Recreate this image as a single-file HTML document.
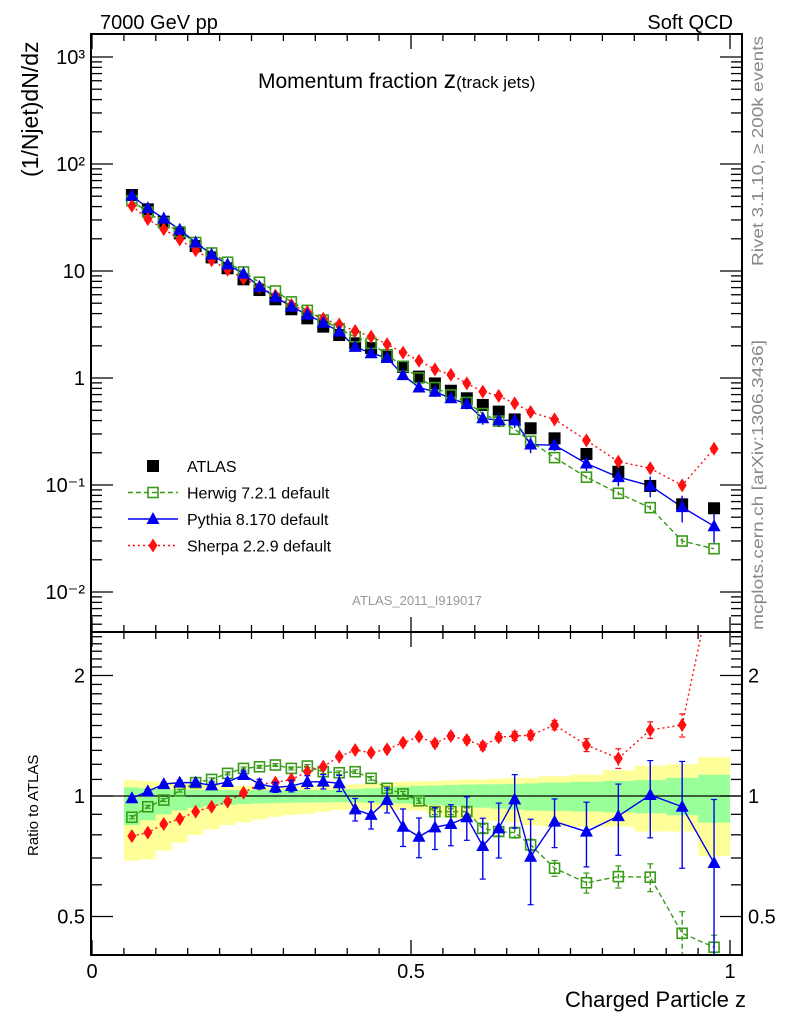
<!DOCTYPE html>
<html><head><meta charset="utf-8"><style>
html,body{margin:0;padding:0;background:#fff;}
svg{display:block;font-family:"Liberation Sans",sans-serif;}
</style></head><body>
<svg id="c" width="786" height="1024" viewBox="0 0 786 1024" xmlns="http://www.w3.org/2000/svg">
<g id="bands"></g>
<g id="marks"></g>
<g id="axes"></g>
<text x="100" y="29" font-size="20">7000 GeV pp</text>
<text x="733" y="29" font-size="20" text-anchor="end">Soft QCD</text>
<text x="258" y="88" font-size="21">Momentum fraction <tspan font-size="25">z</tspan><tspan font-size="17">(track jets)</tspan></text>
<text transform="translate(38,177) rotate(-90)" font-size="23">(1/Njet)dN/dz</text>
<text transform="translate(38,856) rotate(-90)" font-size="15">Ratio to ATLAS</text>
<text x="746" y="1007" font-size="22" text-anchor="end">Charged Particle z</text>
<text transform="translate(763,266) rotate(-90)" font-size="16" textLength="230" lengthAdjust="spacingAndGlyphs" fill="#888">Rivet 3.1.10, ≥ 200k events</text>
<text transform="translate(763,630) rotate(-90)" font-size="16" textLength="290" lengthAdjust="spacingAndGlyphs" fill="#888">mcplots.cern.ch [arXiv:1306.3436]</text>
<text x="417" y="605" font-size="13" fill="#999" text-anchor="middle">ATLAS_2011_I919017</text>
<g id="legend"></g>
</svg>
<script>
const NS="http://www.w3.org/2000/svg";
const zvals=[0.0625,0.0875,0.1125,0.1375,0.1625,0.1875,0.2125,0.2375,0.2625,0.2875,0.3125,0.3375,0.3625,0.3875,0.4125,0.4375,0.4625,0.4875,0.5125,0.5375,0.5625,0.5875,0.6125,0.6375,0.6625,0.6875,0.725,0.775,0.825,0.875,0.925,0.975];
const halfW=[0.0125,0.0125,0.0125,0.0125,0.0125,0.0125,0.0125,0.0125,0.0125,0.0125,0.0125,0.0125,0.0125,0.0125,0.0125,0.0125,0.0125,0.0125,0.0125,0.0125,0.0125,0.0125,0.0125,0.0125,0.0125,0.0125,0.025,0.025,0.025,0.025,0.025,0.025];
const atlas=[51.3,37.7,28.9,22.5,17.1,13.4,10.6,8.36,6.64,5.44,4.39,3.61,3.02,2.52,2.11,1.90,1.58,1.27,1.03,0.89,0.76,0.646,0.56,0.485,0.41,0.339,0.273,0.195,0.133,0.098,0.066,0.0606];
const herwigRatio=[0.885,0.94,0.977,1.031,1.08,1.1,1.139,1.172,1.183,1.195,1.172,1.188,1.15,1.143,1.15,1.107,1.045,1.012,0.973,0.914,0.914,0.914,0.83,0.815,0.81,0.755,0.66,0.607,0.629,0.627,0.454,0.419];
const pythiaRatio=[0.987,1.027,1.071,1.08,1.08,1.063,1.084,1.128,1.071,1.051,1.059,1.084,1.086,1.076,0.926,0.897,0.977,0.838,0.791,0.835,0.851,0.885,0.75,0.83,0.981,0.705,0.863,0.815,0.891,1.006,0.94,0.68];
const sherpaRatio=[0.794,0.81,0.851,0.876,0.914,0.94,0.968,1.019,1.071,1.08,1.1,1.15,1.184,1.254,1.303,1.283,1.308,1.359,1.407,1.354,1.412,1.38,1.333,1.402,1.412,1.418,1.504,1.341,1.242,1.462,1.504,3.6];
const pythiaErr=[0.012,0.012,0.012,0.015,0.015,0.018,0.02,0.025,0.03,0.03,0.035,0.04,0.045,0.05,0.06,0.07,0.07,0.09,0.09,0.1,0.1,0.11,0.13,0.13,0.15,0.17,0.12,0.15,0.18,0.22,0.28,0.3];
const herwigErr=[0.008,0.008,0.008,0.008,0.008,0.01,0.01,0.01,0.01,0.01,0.01,0.01,0.012,0.012,0.012,0.012,0.012,0.015,0.015,0.015,0.015,0.02,0.02,0.02,0.025,0.025,0.03,0.035,0.04,0.05,0.06,0.03];
const sherpaErr=[0.01,0.01,0.01,0.01,0.01,0.01,0.01,0.01,0.01,0.012,0.012,0.012,0.015,0.015,0.015,0.02,0.02,0.02,0.02,0.025,0.025,0.025,0.03,0.03,0.035,0.035,0.04,0.05,0.07,0.07,0.1,0];
const yellowLo=[0.689,0.695,0.73,0.764,0.799,0.826,0.846,0.859,0.874,0.888,0.897,0.902,0.914,0.923,0.925,0.925,0.925,0.923,0.92,0.9,0.88,0.875,0.87,0.865,0.86,0.845,0.84,0.838,0.838,0.815,0.815,0.708];
const yellowHi=[1.096,1.09,1.085,1.075,1.07,1.065,1.06,1.06,1.06,1.06,1.06,1.06,1.062,1.065,1.07,1.075,1.08,1.085,1.088,1.09,1.095,1.1,1.1,1.105,1.11,1.11,1.12,1.13,1.16,1.19,1.2,1.25];
const greenLo=[0.846,0.87,0.9,0.92,0.935,0.945,0.95,0.955,0.958,0.96,0.962,0.963,0.964,0.965,0.965,0.962,0.96,0.958,0.955,0.95,0.945,0.94,0.935,0.93,0.925,0.92,0.918,0.915,0.91,0.905,0.895,0.858];
const greenHi=[1.051,1.045,1.04,1.038,1.035,1.035,1.035,1.035,1.035,1.035,1.035,1.035,1.035,1.038,1.04,1.045,1.05,1.055,1.06,1.062,1.065,1.068,1.07,1.07,1.072,1.075,1.08,1.085,1.09,1.096,1.11,1.13];
const mainTickLabels=["10\u207B\u00B2","10\u207B\u00B9","1","10","10\u00B2","10\u00B3"];
const ratioTickVals=[0.5,1,2];
const xTickVals=[0,0.5,1];

const L=91,R=742,T=34,MB=632,B=955;
const X=z=>92+z*638;
const Y=v=>378-107*Math.log10(v);
const RY=r=>796-120.5*Math.log2(r);
const svg=document.getElementById('c');
const gB=document.getElementById('bands'),gM=document.getElementById('marks'),gA=document.getElementById('axes'),gL=document.getElementById('legend');
function mk(tag,attrs,parent){const e=document.createElementNS(NS,tag);for(const k in attrs)e.setAttribute(k,attrs[k]);parent.appendChild(e);return e;}

for(let i=0;i<zvals.length;i++){
  const x0=X(zvals[i]-halfW[i]),x1=X(zvals[i]+halfW[i]);
  const y1=mk('rect',{x:x0,y:RY(yellowHi[i]),width:x1-x0,height:RY(yellowLo[i])-RY(yellowHi[i]),fill:'#ffff99'},gB);
  
  
  const g1=mk('rect',{x:x0,y:RY(greenHi[i]),width:x1-x0,height:RY(greenLo[i])-RY(greenHi[i]),fill:'#99ff99'},gB);
  
  
}
const one=mk('line',{x1:L,x2:R,y1:RY(1),y2:RY(1),stroke:'#000','stroke-width':1.2},gB);



function marker(type,x,y,parent){
  let e;
  if(type==='sq') e=mk('rect',{x:x-6,y:y-6,width:12,height:12,fill:'#000'},parent);
  else if(type==='osq') e=mk('rect',{x:x-5,y:y-5,width:10,height:10,fill:'#fff','fill-opacity':0,stroke:'#3a9a1a','stroke-width':1.6},parent);
  else if(type==='tri') e=mk('polygon',{points:`${x},${y-7} ${x-6.5},${y+5} ${x+6.5},${y+5}`,fill:'#0000ee'},parent);
  else e=mk('polygon',{points:`${x},${y-7} ${x-4.5},${y} ${x},${y+7} ${x+4.5},${y}`,fill:'#ff1010'},parent);
  return e;
}
const series=[
 {name:'herwig',ratio:herwigRatio,err:herwigErr,col:'#3a9a1a',dash:'5,3',m:'osq'},
 {name:'sherpa',ratio:sherpaRatio,err:sherpaErr,col:'#ff1010',dash:'2,3',m:'dia'},
 {name:'pythia',ratio:pythiaRatio,err:pythiaErr,col:'#0000ee',dash:'',m:'tri'}
];
for(const s of series){
  const pts=zvals.map((z,i)=>`${X(z)},${Y(atlas[i]*s.ratio[i])}`).join(' ');
  const pl=mk('polyline',{points:pts,fill:'none',stroke:s.col,'stroke-width':1.4,'stroke-dasharray':s.dash},gM);
  
  
}
zvals.forEach((z,i)=>{
  const m=marker('sq',X(z),Y(atlas[i]),gM);
  
  
});
for(const s of series){
  zvals.forEach((z,i)=>{
    const v=atlas[i]*s.ratio[i];
    if(s.err[i]>0.03){
      const e=mk('line',{x1:X(z),x2:X(z),y1:Y(v*(1+s.err[i])),y2:Y(v*(1-s.err[i])),stroke:s.col,'stroke-width':1.4},gM);
      
      
    }
    const m=marker(s.m,X(z),Y(v),gM);
    
    
  });
}
const clip=mk('clipPath',{id:'rc'},svg);mk('rect',{x:L,y:MB,width:R-L,height:B-MB},clip);
const gR=mk('g',{'clip-path':'url(#rc)'},gM);


for(const s of series){
  const pts=zvals.map((z,i)=>`${X(z)},${RY(s.ratio[i])}`).join(' ');
  const pl=mk('polyline',{points:pts,fill:'none',stroke:s.col,'stroke-width':1.4,'stroke-dasharray':s.dash},gR);
  
  
  zvals.forEach((z,i)=>{
    const r=s.ratio[i];
    if(s.err[i]>0){
      const e=mk('line',{x1:X(z),x2:X(z),y1:RY(r+s.err[i]),y2:RY(Math.max(0.01,r-s.err[i])),stroke:s.col,'stroke-width':1.4,'stroke-dasharray':s.dash},gR);
      
      
      for(const rr of [r+s.err[i],r-s.err[i]]){
        const c=mk('line',{x1:X(z)-3,x2:X(z)+3,y1:RY(rr),y2:RY(rr),stroke:s.col,'stroke-width':1.2},gR);
        
        
      }
    }
    const m=marker(s.m,X(z),RY(r),gR);
    
    
  });
}
for(const [y0,y1,n] of [[T,MB,'main-frame'],[MB,B,'ratio-frame']]){
  const f=mk('rect',{x:L,y:y0,width:R-L,height:y1-y0,fill:'none',stroke:'#000','stroke-width':2},gA);
  
  
}
function tick(x1,y1,x2,y2){const t=mk('line',{x1,y1,x2,y2,stroke:'#000','stroke-width':1.3},gA);}
for(let d=-3;d<=3;d++){for(let k=1;k<10;k++){const v=k*Math.pow(10,d);const y=Y(v);if(y<T||y>MB)continue;const len=k===1?22:11;tick(L,y,L+len,y);tick(R,y,R-len,y);}}
mainTickLabels.forEach((lab,i)=>{
  const y=Y(Math.pow(10,i-2));
  const t=mk('text',{x:85,y:y+7,'font-size':20,'text-anchor':'end'},gA);
  t.textContent=lab;
  
  
});
const rt=[0.4,0.5,0.6,0.7,0.8,0.9,1,1.1,1.2,1.3,1.4,1.5,1.6,1.7,1.8,1.9,2,2.1,2.2,2.3,2.4,2.5];
for(const r of rt){const y=RY(r);if(y<MB||y>B)continue;const len=ratioTickVals.includes(r)?22:11;tick(L,y,L+len,y);tick(R,y,R-len,y);}
ratioTickVals.forEach(r=>{
  const y=RY(r);
  const t=mk('text',{x:85,y:y+7,'font-size':20,'text-anchor':'end'},gA);
  t.textContent=String(r);
  
  
  const t2=mk('text',{x:748,y:y+7,'font-size':20},gA);
  t2.textContent=String(r);
  
  
});
for(let k=0;k<=20;k++){const z=k*0.05;const x=X(z);const len=(k%10===0)?15:7;
  for(const [yb,dir] of [[T,1],[MB,-1],[MB,1],[B,-1]]) tick(x,yb,x,yb+dir*len);}
xTickVals.forEach(v=>{
  const t=mk('text',{x:X(v),y:978,'font-size':20,'text-anchor':'middle'},gA);
  t.textContent=String(v);
  
  
});
const leg=[['sq','#000','','ATLAS'],['osq','#3a9a1a','5,3','Herwig 7.2.1 default'],['tri','#0000ee','','Pythia 8.170 default'],['dia','#ff1010','2,3','Sherpa 2.2.9 default']];
leg.forEach((l,i)=>{
  const y=466+i*26.5;
  const g=mk('g',{},gL);
  
  
  if(i>0) mk('line',{x1:128,x2:178,y1:y,y2:y,stroke:l[1],'stroke-width':1.4,'stroke-dasharray':l[2]},g);
  marker(l[0],153,y,g);
  const t=mk('text',{x:187,y:y+6,'font-size':16},g);
  t.textContent=l[3];
});
</script>
</body></html>
